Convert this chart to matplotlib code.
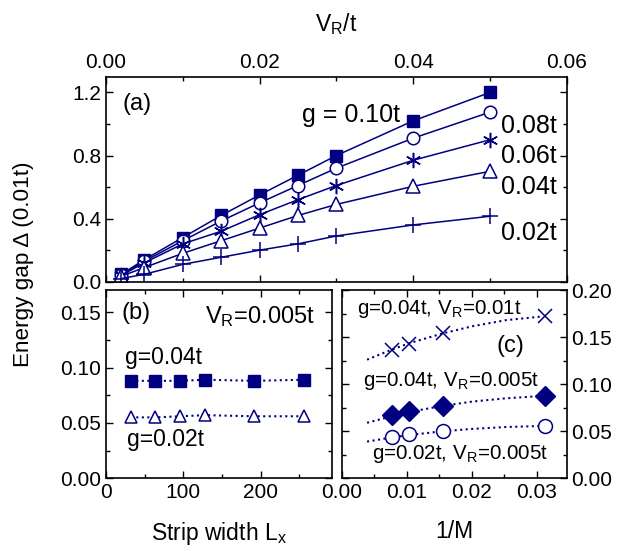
import matplotlib
matplotlib.use("Agg")
import matplotlib.pyplot as plt
from matplotlib.ticker import MultipleLocator

plt.rcParams['font.family'] = ['Liberation Sans', 'DejaVu Sans']
plt.rcParams['mathtext.fontset'] = 'custom'
plt.rcParams['mathtext.rm'] = 'Liberation Sans'
plt.rcParams['mathtext.it'] = 'Liberation Sans'

NAVY = '#000080'

# panel (a): gap vs V_R/t for several g
vr = [0.002, 0.005, 0.01, 0.015, 0.02, 0.025, 0.03, 0.04, 0.05]
gap_g010 = [0.047, 0.14, 0.28, 0.42, 0.55, 0.675, 0.80, 1.02, 1.20]
gap_g008 = [0.045, 0.13, 0.26, 0.385, 0.50, 0.61, 0.72, 0.91, 1.075]
gap_g006 = [0.04, 0.12, 0.24, 0.32, 0.425, 0.52, 0.61, 0.77, 0.90]
gap_g004 = [0.035, 0.09, 0.18, 0.26, 0.34, 0.42, 0.49, 0.605, 0.70]
gap_g002 = [0.02, 0.047, 0.11, 0.155, 0.20, 0.24, 0.29, 0.36, 0.415]

# panel (b): gap vs strip width
lx = [32, 64, 96, 128, 192, 256]
gap_b_g004 = [0.088, 0.088, 0.088, 0.089, 0.088, 0.089]
gap_b_g002 = [0.055, 0.055, 0.056, 0.057, 0.056, 0.056]

# panel (c): gap vs 1/M
inv_m = [0.0078, 0.0104, 0.0156, 0.03125]
gap_c_cross = [0.136, 0.143, 0.154, 0.172]
gap_c_diamond = [0.067, 0.0717, 0.077, 0.0874]
gap_c_circle = [0.0437, 0.047, 0.0503, 0.0556]

# fitted curves in (c)
fit_x = [0.0039, 0.0078, 0.0104, 0.0156, 0.0201, 0.0253, 0.0310]
fit_cross = [0.126, 0.137, 0.1435, 0.154, 0.1615, 0.168, 0.172]
fit_diamond = [0.059, 0.066, 0.0705, 0.077, 0.0815, 0.085, 0.0875]
fit_circle = [0.039, 0.0435, 0.046, 0.050, 0.0525, 0.0545, 0.0556]

fig = plt.figure(figsize=(6.31, 5.51), dpi=100)

W, H = 631.0, 551.0
ax_a = fig.add_axes([106 / W, 1 - 281.7 / H, (566.7 - 106) / W, (281.7 - 76.7) / H])
ax_b = fig.add_axes([106 / W, 1 - 478.3 / H, (331.7 - 106) / W, (478.3 - 290) / H])
ax_c = fig.add_axes([341.7 / W, 1 - 478.3 / H, (566.7 - 341.7) / W, (478.3 - 290) / H])

TICK_FS = 15
LABEL_FS = 16.5
ANN_FS = 17


def style(ax):
    for s in ax.spines.values():
        s.set_linewidth(1.2)
    ax.tick_params(which='both', direction='in', top=True, right=True,
                   labelsize=TICK_FS, width=1.0)
    ax.tick_params(which='major', length=5)
    ax.tick_params(which='minor', length=3)


# ---- (a)
style(ax_a)
lw = 1.1
ax_a.plot(vr, gap_g010, '-s', color=NAVY, ms=8, lw=lw, mfc=NAVY)
ax_a.plot(vr, gap_g008, '-o', color=NAVY, ms=9, lw=lw, mfc='white', mew=1.1)
ax_a.plot(vr, gap_g006, '-', marker=(6, 2, 0), color=NAVY, ms=11, lw=lw, mew=1.1)
ax_a.plot(vr, gap_g004, '-^', color=NAVY, ms=10, lw=lw, mfc='white', mew=1.1)
ax_a.plot(vr, gap_g002, '-+', color=NAVY, ms=11, lw=lw, mew=1.1)
ax_a.set_xlim(0, 0.06)
ax_a.set_ylim(0, 1.3)
ax_a.xaxis.set_major_locator(MultipleLocator(0.02))
ax_a.xaxis.set_minor_locator(MultipleLocator(0.01))
ax_a.yaxis.set_major_locator(MultipleLocator(0.4))
ax_a.yaxis.set_minor_locator(MultipleLocator(0.2))
ax_a.tick_params(axis='x', which='both', labelbottom=False, labeltop=True)
ax_a.xaxis.set_major_formatter(plt.FormatStrFormatter('%.2f'))
ax_a.yaxis.set_major_formatter(plt.FormatStrFormatter('%.1f'))
ax_a.set_xlabel(r'V$_\mathregular{R}$/t', fontsize=LABEL_FS, labelpad=16)
ax_a.xaxis.set_label_position('top')
ax_a.text(0.0022, 1.13, '(a)', fontsize=ANN_FS, va='center')
ax_a.text(0.0255, 1.056, 'g = 0.10t', fontsize=18, va='center')
ax_a.text(0.0515, 0.99, '0.08t', fontsize=18, va='center')
ax_a.text(0.0515, 0.80, '0.06t', fontsize=18, va='center')
ax_a.text(0.0515, 0.60, '0.04t', fontsize=18, va='center')
ax_a.text(0.0515, 0.31, '0.02t', fontsize=18, va='center')

# ---- (b)
style(ax_b)
ax_b.plot(lx, gap_b_g004, ':s', color=NAVY, ms=8, lw=1.5, mfc=NAVY)
ax_b.plot(lx, gap_b_g002, ':^', color=NAVY, ms=9, lw=1.5, mfc='white', mew=1.1)
ax_b.set_xlim(0, 292)
ax_b.set_ylim(0, 0.17)
ax_b.xaxis.set_major_locator(MultipleLocator(100))
ax_b.xaxis.set_minor_locator(MultipleLocator(50))
ax_b.yaxis.set_major_locator(MultipleLocator(0.05))
ax_b.yaxis.set_minor_locator(MultipleLocator(0.025))
ax_b.yaxis.set_major_formatter(plt.FormatStrFormatter('%.2f'))
ax_b.set_xlabel(r'Strip width L$_\mathregular{x}$', fontsize=LABEL_FS, labelpad=13)
ax_b.text(20, 0.149, '(b)', fontsize=ANN_FS, va='center')
ax_b.text(128, 0.146, r'V$_\mathregular{R}$=0.005t', fontsize=ANN_FS, va='center')
ax_b.text(24, 0.109, 'g=0.04t', fontsize=16.5, va='center')
ax_b.text(27, 0.035, 'g=0.02t', fontsize=16.5, va='center')

# ---- (c)
style(ax_c)
ax_c.plot(fit_x, fit_cross, ':', color=NAVY, lw=1.5)
ax_c.plot(fit_x, fit_diamond, ':', color=NAVY, lw=1.5)
ax_c.plot(fit_x, fit_circle, ':', color=NAVY, lw=1.5)
ax_c.plot(inv_m, gap_c_cross, 'x', color=NAVY, ms=10, mew=1.1)
ax_c.plot(inv_m, gap_c_diamond, 'D', color=NAVY, ms=10, mfc=NAVY)
ax_c.plot(inv_m, gap_c_circle, 'o', color=NAVY, ms=10, mfc='white', mew=1.1)
ax_c.set_xlim(0, 0.0346)
ax_c.set_ylim(0, 0.2)
ax_c.xaxis.set_major_locator(MultipleLocator(0.01))
ax_c.xaxis.set_minor_locator(MultipleLocator(0.005))
ax_c.yaxis.set_major_locator(MultipleLocator(0.05))
ax_c.yaxis.set_minor_locator(MultipleLocator(0.025))
ax_c.xaxis.set_major_formatter(plt.FormatStrFormatter('%.2f'))
ax_c.yaxis.set_major_formatter(plt.FormatStrFormatter('%.2f'))
ax_c.tick_params(axis='y', which='both', labelleft=False, labelright=True)
ax_c.set_xlabel('1/M', fontsize=LABEL_FS, labelpad=13)
ax_c.text(0.0023, 0.18, r'g=0.04t, V$_\mathregular{R}$=0.01t', fontsize=14.8, va='center')
ax_c.text(0.0238, 0.1405, '(c)', fontsize=ANN_FS, va='center')
ax_c.text(0.0033, 0.103, r'g=0.04t, V$_\mathregular{R}$=0.005t', fontsize=14.8, va='center')
ax_c.text(0.0046, 0.026, r'g=0.02t, V$_\mathregular{R}$=0.005t', fontsize=14.8, va='center')

fig.text(24 / W, 1 - 264 / H, 'Energy gap \u0394 (0.01t)', rotation=90,
         fontsize=16.2, va='center', ha='center')

fig.savefig('out.png', dpi=100)
